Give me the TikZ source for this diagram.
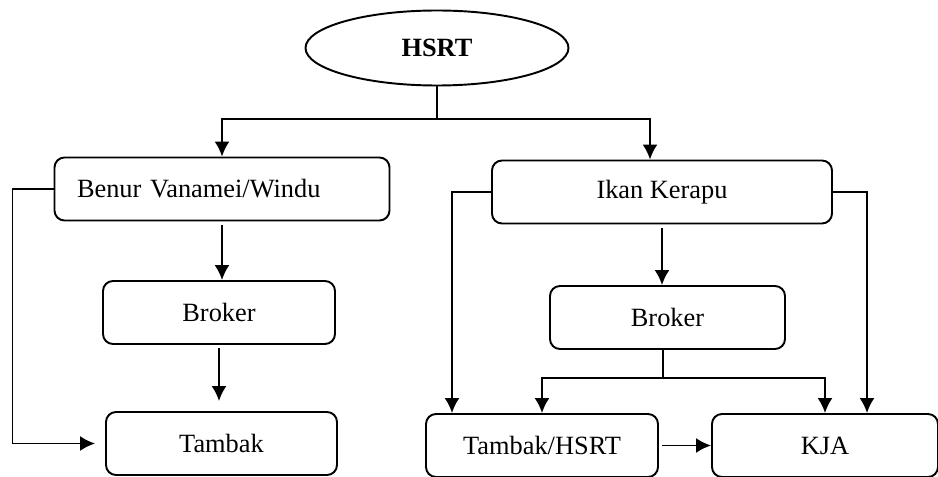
\documentclass[tikz,border=0pt]{standalone}
\usepackage{fontspec}
\setmainfont{Liberation Serif}
\usetikzlibrary{positioning,shapes,arrows.meta}

\begin{document}
\begin{tikzpicture}[
		box/.style={draw,rounded corners=2mm,line width=1.1pt,minimum height=1.26cm,font=\fontsize{15}{18}\selectfont},
		oval/.style={draw,ellipse,line width=1.1pt,minimum width=5.26cm,minimum height=1.5cm,font=\fontsize{15}{18}\selectfont\bfseries},
		link/.style={->,line width=1.1pt},
		>={Latex[length=3mm,width=3mm]}
		]
		\useasboundingbox (0,0) rectangle (18.76,9.52);
		\node[oval] (hsrt) at (8.74,8.56) {HSRT};
		\node[box,minimum width=6.7cm,text width=5.8cm,inner xsep=0.45cm,align=left] (benur) at (4.44,5.74) {Benur Vanamei/Windu};
		\node[box,minimum width=6.8cm] (ikan) at (13.24,5.68) {Ikan Kerapu};
		\node[box,minimum width=4.64cm] (brokerL) at (4.38,3.27) {Broker};
		\node[box,minimum width=4.7cm] (brokerR) at (13.35,3.17) {Broker};
		\node[box,minimum width=4.62cm] (tambak) at (4.43,0.65) {Tambak};
		\node[box,minimum width=4.64cm] (tambakh) at (10.84,0.61) {Tambak/HSRT};
		\node[box,minimum width=4.52cm] (kja) at (16.5,0.61) {KJA};
		% split points
		\coordinate (topsplit) at (8.74,7.14);
		\coordinate (botsplit) at (13.26,1.96);
		\draw[line width=1.1pt] (hsrt) -- (topsplit);
		\draw[link] (topsplit) -| (benur.north);
		\draw[link] (topsplit) -| ([xshift=-0.24cm]ikan.north);
		\draw[link,shorten >=2mm] (benur.west) -- ++(-0.82,0) |- (tambak.west);
		\draw[link,shorten <=2pt] (benur.south) -- (benur.south |- brokerL.north);
		\draw[link,shorten <=2pt,shorten >=2mm] (brokerL.south) -- (brokerL.south |- tambak.north);
		\draw[link] (ikan.west) -| ([xshift=-1.8cm]tambakh.north);
		\draw[link,shorten <=2pt] (ikan.south) -- (ikan.south |- brokerR.north);
		\draw[line width=1.1pt] (brokerR.south -| botsplit) -- (botsplit);
		\draw[link] (botsplit) -| (tambakh.north);
		\draw[link] (botsplit) -| (kja.north);
		\draw[link] (ikan.east) -| ([xshift=0.84cm]kja.north);
		\draw[link,shorten <=2pt] (tambakh.east) -- (kja.west);
	\end{tikzpicture}
\end{document}
